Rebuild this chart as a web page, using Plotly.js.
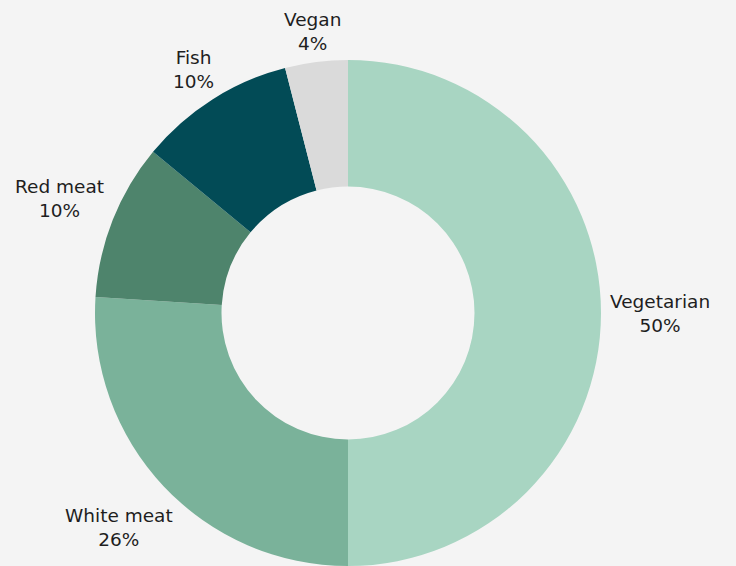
<!DOCTYPE html>
<html>
<head>
<meta charset="utf-8">
<script src="https://cdn.plot.ly/plotly-3.0.1.min.js"></script>
<style>html,body{margin:0;padding:0;background:#f4f4f4;}#chart{width:736px;height:566px;}</style>
</head>
<body>
<div id="chart"></div>
<script>
const categories = ["Vegetarian", "White meat", "Red meat", "Fish", "Vegan"];
const shares = [50, 26, 10, 10, 4];
const colors = ["#a8d5c2", "#7ab29a", "#4e846c", "#024b56", "#dadada"];

const W = 736, H = 566;
const margin = {t: 60, b: 0, l: 0, r: 40};
const fontFamily = "DejaVu Sans";
const fontSize = 18.5;
const labelPad = 9;

const trace = {
  type: "pie",
  labels: categories,
  values: shares,
  hole: 0.5,
  sort: false,
  direction: "clockwise",
  rotation: 0,
  textinfo: "none",
  marker: {colors: colors, line: {width: 0}},
  hoverinfo: "none",
  showlegend: false
};

// Outside labels placed along each slice's mid-angle, computed from the data.
const plotW = W - margin.l - margin.r;
const plotH = H - margin.t - margin.b;
const R = Math.min(plotW, plotH) / 2;
const total = shares.reduce((a, b) => a + b, 0);
const ctx = document.createElement("canvas").getContext("2d");
ctx.font = fontSize + "px '" + fontFamily + "'";
let cum = 0;
const annotations = categories.map((cat, i) => {
  const pct = Math.round(shares[i] / total * 100) + "%";
  const mid = (cum + shares[i] / 2) / total * 2 * Math.PI;
  cum += shares[i];
  const ux = Math.sin(mid), uy = -Math.cos(mid);
  const w = Math.max(ctx.measureText(cat).width, ctx.measureText(pct).width);
  const h = fontSize * 2;
  const d = R + labelPad + Math.abs(ux) * w / 2 + Math.abs(uy) * h / 2;
  return {
    xref: "paper", yref: "paper", x: 0.5, y: 0.5,
    xshift: ux * d, yshift: -uy * d,
    xanchor: "center", yanchor: "middle", align: "center",
    showarrow: false,
    text: cat + "<br>" + pct,
    font: {family: fontFamily, size: fontSize, color: "#1e1e1e"}
  };
});

const layout = {
  width: W,
  height: H,
  margin: margin,
  paper_bgcolor: "#f4f4f4",
  plot_bgcolor: "#f4f4f4",
  showlegend: false,
  font: {family: fontFamily, size: fontSize, color: "#1e1e1e"},
  annotations: annotations
};

Plotly.newPlot("chart", [trace], layout, {displayModeBar: false, staticPlot: true});
</script>
</body>
</html>
